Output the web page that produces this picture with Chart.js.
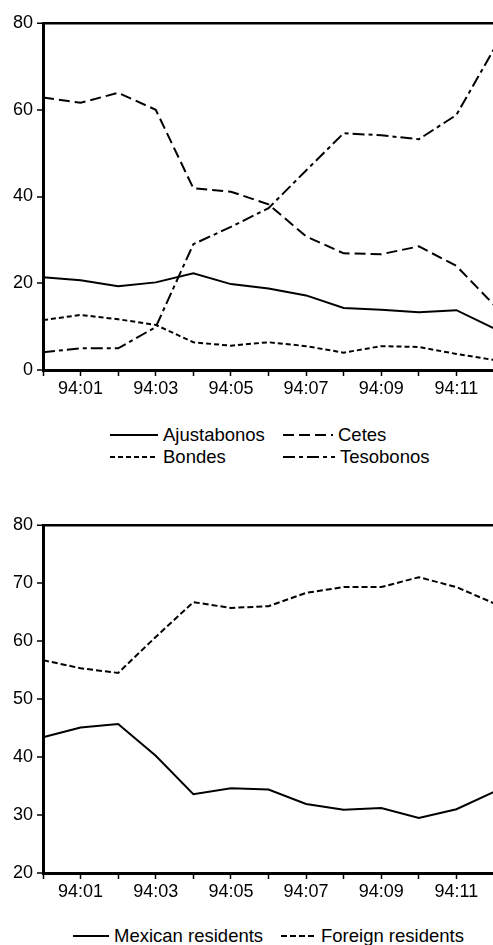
<!DOCTYPE html>
<html>
<head>
<meta charset="utf-8">
<script src="https://cdn.jsdelivr.net/npm/chart.js@4"></script>
<style>
  html, body { margin: 0; padding: 0; background: #fff; overflow: hidden; width: 493px; height: 945px; }
  .box { position: absolute; left: 0; }
  .legend { position: absolute; font-family: "Liberation Sans", Arial, sans-serif; font-size: 18.5px; color: #000; white-space: nowrap; }
  .item { position: absolute; display: flex; align-items: center; }
  .item svg { margin-right: 5px; }
</style>
</head>
<body>
<div class="box" style="top:0"><canvas id="top" width="500" height="410"></canvas></div>
<div class="box" style="top:500px"><canvas id="bottom" width="500" height="413"></canvas></div>
<div class="legend" id="legendTop"></div>
<div class="legend" id="legendBottom"></div>
<script>
// months 93:12 .. 94:12
const months = ["93:12", "94:01", "94:02", "94:03", "94:04", "94:05", "94:06",
  "94:07", "94:08", "94:09", "94:10", "94:11", "94:12"]

// top panel, percent of holdings by instrument
const ajustabonos = [21.4, 20.7, 19.3, 20.2, 22.3, 19.8, 18.8, 17.2, 14.3, 13.9, 13.3, 13.8, 9.6]
const cetes = [62.8, 61.6, 63.9, 60.0, 41.9, 41.1, 38.2, 30.8, 26.9, 26.7, 28.5, 24.0, 15.0]
const bondes = [11.5, 12.7, 11.7, 10.4, 6.4, 5.6, 6.4, 5.5, 4.0, 5.5, 5.3, 3.7, 2.3]
const tesobonos = [4.1, 5.0, 5.0, 9.9, 29.0, 33.0, 37.3, 46.0, 54.6, 54.1, 53.2, 58.8, 74.0]

// bottom panel, percent by holder
const mexican = [43.4, 45.1, 45.7, 40.2, 33.6, 34.6, 34.4, 31.9, 30.9, 31.2, 29.5, 31.0, 34.0]
const foreign = [56.7, 55.3, 54.5, 60.7, 66.7, 65.7, 66.0, 68.3, 69.3, 69.3, 71.0, 69.3, 66.5]

const topTicks = [0, 20, 40, 60, 80]
const bottomTicks = [20, 30, 40, 50, 60, 70, 80]

const FONT = { family: "'Liberation Sans', Arial, sans-serif", size: 18 }
const INK = "#000"

const dashes = {
  solid: [],
  long: [11, 5],
  short: [5, 3],
  dashdot: [12, 4, 4, 4],
  foreign: [6, 3],
}

function line(label, data, dash) {
  return {
    label: label,
    data: data,
    borderColor: INK,
    borderWidth: 2,
    borderDash: dash,
    pointRadius: 0,
    tension: 0,
    fill: false,
  }
}

function makeChart(id, datasets, ticks, padTop) {
  const min = ticks[0]
  const max = ticks[ticks.length - 1]
  return new Chart(document.getElementById(id), {
    type: "line",
    data: { labels: months, datasets: datasets },
    options: {
      responsive: false,
      animation: false,
      devicePixelRatio: 1,
      layout: { padding: { top: padTop, right: 6, left: 0, bottom: 0 } },
      plugins: { legend: { display: false }, tooltip: { enabled: false } },
      scales: {
        x: {
          offset: false,
          grid: { drawOnChartArea: false, tickLength: 6, tickColor: INK, tickWidth: 1.5 },
          border: { color: INK, width: 3 },
          ticks: {
            autoSkip: false,
            maxRotation: 0,
            padding: 2,
            color: INK,
            font: FONT,
            callback: (v, i) => (i % 2 === 1 ? months[i] : ""),
          },
          afterFit: (s) => { s.height = 40 },
        },
        y: {
          min: min,
          max: max,
          afterBuildTicks: (s) => { s.ticks = ticks.map((v) => ({ value: v })) },
          grid: {
            drawOnChartArea: true,
            color: (c) => (c.tick && c.tick.value === max ? INK : "rgba(0,0,0,0)"),
            lineWidth: (c) => (c.tick && c.tick.value === max ? 2.5 : 0),
            tickColor: INK,
            tickLength: 6,
            tickWidth: 1.5,
          },
          border: { color: INK, width: 3 },
          ticks: { padding: 4, color: INK, font: FONT },
          afterFit: (s) => { s.width = 43 },
        },
      },
    },
  })
}

makeChart("top", [
  line("Ajustabonos", ajustabonos, dashes.solid),
  line("Cetes", cetes, dashes.long),
  line("Bondes", bondes, dashes.short),
  line("Tesobonos", tesobonos, dashes.dashdot),
], topTicks, 23)

makeChart("bottom", [
  line("Mexican residents", mexican, dashes.solid),
  line("Foreign residents", foreign, dashes.foreign),
], bottomTicks, 25)

// legends as html text with svg line samples
function sample(w, dash) {
  return '<svg width="' + w + '" height="6"><line x1="0" y1="3" x2="' + w + '" y2="3" stroke="' + INK +
    '" stroke-width="2" stroke-dasharray="' + (dash.length ? dash.join(",") : "none") + '"/></svg>'
}

function legend(el, items) {
  el.innerHTML = items.map((it) =>
    '<div class="item" style="left:' + it.x + 'px;top:' + (it.y - 11) + 'px">' +
    sample(it.w, it.dash) + "<span>" + it.label + "</span></div>").join("")
}

legend(document.getElementById("legendTop"), [
  { label: "Ajustabonos", dash: dashes.solid, x: 110, y: 435, w: 48 },
  { label: "Cetes", dash: dashes.long, x: 283, y: 435, w: 50 },
  { label: "Bondes", dash: dashes.short, x: 110, y: 457, w: 48 },
  { label: "Tesobonos", dash: dashes.dashdot, x: 283, y: 457, w: 52 },
])

legend(document.getElementById("legendBottom"), [
  { label: "Mexican residents", dash: dashes.solid, x: 73, y: 936, w: 36 },
  { label: "Foreign residents", dash: dashes.foreign, x: 281, y: 936, w: 35 },
])
</script>
</body>
</html>
